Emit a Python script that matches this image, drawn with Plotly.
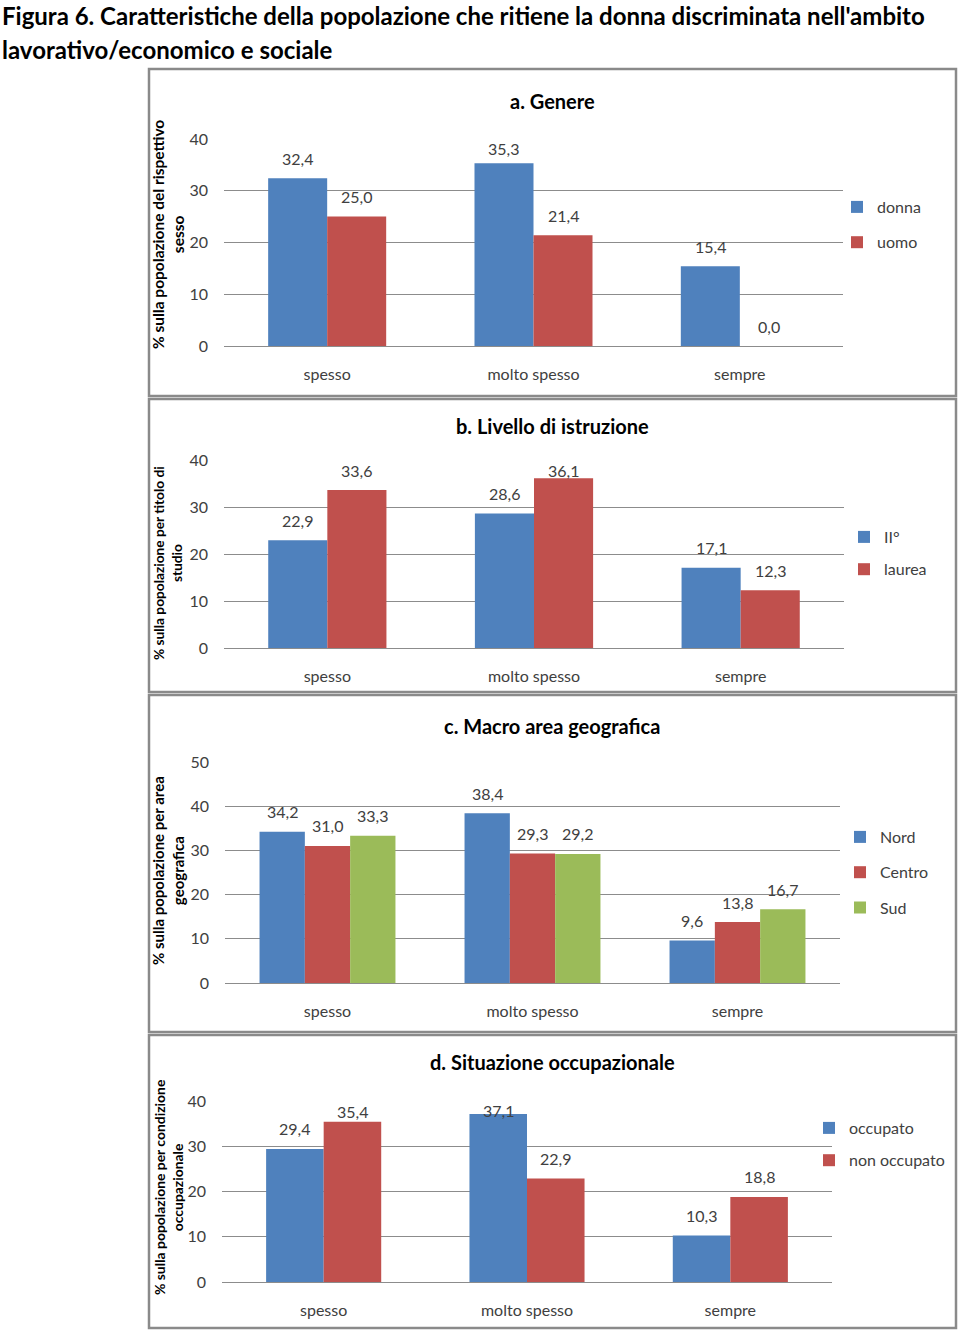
import plotly.graph_objects as go

# ---------------- data ----------------
categories = ["spesso", "molto spesso", "sempre"]

genere_donna = [32.4, 35.3, 15.4]
genere_uomo = [25.0, 21.4, 0.0]

istruzione_II = [22.9, 28.6, 17.1]
istruzione_laurea = [33.6, 36.1, 12.3]

area_nord = [34.2, 38.4, 9.6]
area_centro = [31.0, 29.3, 13.8]
area_sud = [33.3, 29.2, 16.7]

occ_occupato = [29.4, 37.1, 10.3]
occ_non_occupato = [35.4, 22.9, 18.8]

fig_title_1 = "Figura 6. Caratteristiche della popolazione che ritiene la donna discriminata nell'ambito"
fig_title_2 = "lavorativo/economico e sociale"

# ---------------- style ----------------
W, H = 960, 1332
BLUE, RED, GREEN = "#4F81BD", "#C0504D", "#9BBB59"
FONT = "Lato, 'Open Sans', sans-serif"
TXT = "#404040"
GRID = "#8C8C8C"


def fx(px):
    return px / W


def fy(py):
    return 1 - py / H


def fmt(v):
    return f"{v:.1f}".replace(".", ",")


panels = [
    dict(title="a. Genere", ytitle="% sulla popolazione del rispettivo<br>sesso",
         series=[("donna", genere_donna, BLUE), ("uomo", genere_uomo, RED)],
         x=(224, 843), y0=346, ytop=139, ymax=40, box=(69, 396), title_y=101,
         ytitle_y=235, ytitle_size=15.5, leg=(877, 207, 36), bw=0.286),
    dict(title="b. Livello di istruzione", ytitle="% sulla popolazione per titolo di<br>studio",
         series=[("II°", istruzione_II, BLUE), ("laurea", istruzione_laurea, RED)],
         x=(224, 844), y0=648, ytop=460, ymax=40, box=(399, 692), title_y=426,
         ytitle_y=563, ytitle_size=13.7, leg=(884, 537, 33), bw=0.286),
    dict(title="c. Macro area geografica", ytitle="% sulla popolazione per area<br>geografica",
         series=[("Nord", area_nord, BLUE), ("Centro", area_centro, RED), ("Sud", area_sud, GREEN)],
         x=(225, 840), y0=983, ytop=762, ymax=50, box=(695, 1032), title_y=726,
         ytitle_y=871, ytitle_size=15, leg=(880, 837, 36), bw=0.221),
    dict(title="d. Situazione occupazionale", ytitle="% sulla popolazione per condizione<br>occupazionale",
         series=[("occupato", occ_occupato, BLUE), ("non occupato", occ_non_occupato, RED)],
         x=(222, 832), y0=1282, ytop=1101, ymax=40, box=(1035, 1328), title_y=1062,
         ytitle_y=1188, ytitle_size=13.9, leg=(849, 1128, 33), bw=0.283),
]

fig = go.Figure()
annotations = []
shapes = []
layout_axes = {}

for i, p in enumerate(panels):
    n = i + 1
    xa = "x" if n == 1 else f"x{n}"
    ya = "y" if n == 1 else f"y{n}"
    leg = "legend" if n == 1 else f"legend{n}"
    ns = len(p["series"])
    bw = p["bw"]
    ppu = (p["y0"] - p["ytop"]) / p["ymax"]
    for k, (name, vals, col) in enumerate(p["series"]):
        off = -ns * bw / 2 + k * bw
        fig.add_trace(go.Bar(
            x=categories, y=vals, name=name, marker_color=col, marker_line_width=0,
            width=bw, offset=off, xaxis=xa, yaxis=ya, legend=leg,
            legendgroup=f"{n}-{k}", hoverinfo="skip"))
        for j, v in enumerate(vals):
            room = (p["ymax"] - v) * ppu - 10
            shift = max(3, min(20, room))
            annotations.append(dict(
                x=j + off + bw / 2, y=v, xref=xa, yref=ya, text=fmt(v),
                showarrow=False, yanchor="middle", yshift=shift,
                font=dict(family=FONT, size=16, color=TXT)))
    layout_axes["xaxis" if n == 1 else f"xaxis{n}"] = dict(
        domain=[fx(p["x"][0]), fx(p["x"][1])], anchor=ya, type="category",
        range=[-0.5, 2.5], showgrid=False, showline=False, zeroline=False,
        ticks="", ticklabelstandoff=17, tickfont=dict(family=FONT, size=16, color=TXT),
        fixedrange=True, automargin=False)
    layout_axes["yaxis" if n == 1 else f"yaxis{n}"] = dict(
        domain=[fy(p["y0"]), fy(p["ytop"])], anchor=xa, range=[0, p["ymax"]],
        dtick=10, showgrid=True, gridcolor=GRID, gridwidth=1, zeroline=True,
        zerolinecolor=GRID, zerolinewidth=1, showline=False, ticks="",
        ticklabelstandoff=15, tickfont=dict(family=FONT, size=16, color=TXT),
        fixedrange=True, automargin=False)
    lx, ly, gap = p["leg"]
    layout_axes[leg] = dict(
        x=fx(lx - 40), y=fy(ly - 17), xanchor="left", yanchor="top",
        font=dict(family=FONT, size=16, color=TXT), bgcolor="rgba(0,0,0,0)",
        traceorder="grouped", tracegroupgap=gap - 24.5, itemclick=False,
        itemdoubleclick=False)
    # panel title
    annotations.append(dict(
        x=fx(552), y=fy(p["title_y"]), xref="paper", yref="paper", text=f"<b>{p['title']}</b>",
        showarrow=False, xanchor="center", yanchor="middle",
        font=dict(family=FONT, size=20, color="#000000")))
    # y axis title
    annotations.append(dict(
        x=fx(168), y=fy(p["ytitle_y"]), xref="paper", yref="paper", text=f"<b>{p['ytitle']}</b>",
        showarrow=False, textangle=-90, xanchor="center", yanchor="middle",
        font=dict(family=FONT, size=p["ytitle_size"], color="#000000")))
    # panel box
    shapes.append(dict(
        type="rect", xref="paper", yref="paper", x0=fx(149), x1=fx(956),
        y0=fy(p["box"][1]), y1=fy(p["box"][0]),
        line=dict(color="#8A8A8A", width=2.5), fillcolor="rgba(0,0,0,0)", layer="below"))

annotations.append(dict(
    x=0, y=fy(16), xref="paper", yref="paper", text=f"<b>{fig_title_1}</b>",
    showarrow=False, xanchor="left", yanchor="middle",
    font=dict(family=FONT, size=24, color="#000000")))
annotations.append(dict(
    x=0, y=fy(49), xref="paper", yref="paper", text=f"<b>{fig_title_2}</b>",
    showarrow=False, xanchor="left", yanchor="middle",
    font=dict(family=FONT, size=24, color="#000000")))

fig.update_layout(
    width=W, height=H, margin=dict(l=0, r=0, t=0, b=0, autoexpand=False),
    paper_bgcolor="white", plot_bgcolor="white", barmode="overlay",
    showlegend=True, annotations=annotations, shapes=shapes,
    font=dict(family=FONT, size=16, color=TXT), **layout_axes)

fig.write_html("out.html", config={"displayModeBar": False})
